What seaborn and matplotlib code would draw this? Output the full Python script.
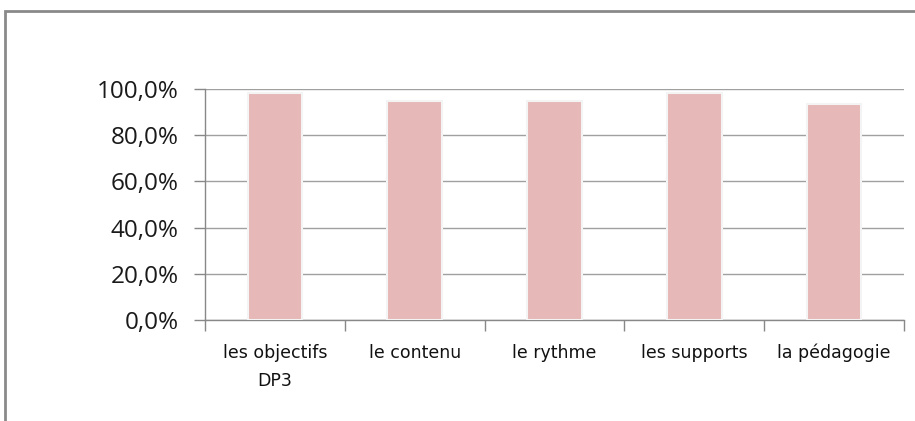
import numpy as np
import pandas as pd
import matplotlib
matplotlib.use('Agg')
import matplotlib.pyplot as plt
import seaborn as sns
from matplotlib.patches import Rectangle
from matplotlib.ticker import FixedLocator, FuncFormatter

# Data
categories = ['les objectifs\nDP3', 'le contenu', 'le rythme', 'les supports', 'la pédagogie']
values = [0.983, 0.950, 0.950, 0.983, 0.933]
yticks = [0.0, 0.2, 0.4, 0.6, 0.8, 1.0]

df = pd.DataFrame({'critere': categories, 'taux': values})

sns.set_style('white')
plt.rcParams['font.family'] = ['Open Sans', 'DejaVu Sans']

fig = plt.figure(figsize=(9.15, 4.21), dpi=100)
ax = fig.add_axes([205 / 915, 1 - 320 / 421, 699 / 915, 231 / 421])

sns.barplot(data=df, x='critere', y='taux', color='#e6b8b7', width=0.39,
            edgecolor='#f4f4f4', linewidth=1.5, saturation=1, ax=ax, zorder=3)

ax.set_xlim(-0.5, len(categories) - 0.5)
ax.set_ylim(0, 1)
ax.set_xlabel('')
ax.set_ylabel('')

# Y axis: percentages with comma decimal
ax.set_yticks(yticks)
ax.yaxis.set_major_formatter(FuncFormatter(lambda v, p: f'{v * 100:.1f}%'.replace('.', ',')))
ax.tick_params(axis='y', length=8, width=1, color='#888888', labelsize=17.5,
               labelcolor='#1a1a1a', pad=11, left=True)
ax.grid(axis='y', color='#a0a0a0', linewidth=1, zorder=0)

# X axis: labels in centre, ticks at boundaries
ax.tick_params(axis='x', which='major', length=0, pad=17, labelsize=12.5)
ax.xaxis.set_minor_locator(FixedLocator(np.arange(-0.5, len(categories), 1.0)))
ax.tick_params(axis='x', which='minor', length=8, width=1, color='#888888', bottom=True)
for lbl in ax.get_xticklabels():
    lbl.set_family(['Liberation Sans Narrow', 'DejaVu Sans'])
    lbl.set_color('#111111')
    lbl.set_linespacing(1.75)

for side in ['top', 'right']:
    ax.spines[side].set_visible(False)
for side in ['left', 'bottom']:
    ax.spines[side].set_color('#888888')
    ax.spines[side].set_linewidth(1)

# Outer chart frame
fig.patches.append(Rectangle((5 / 915, -0.1), 1.0, (421 - 11) / 421 + 0.1,
                             transform=fig.transFigure, fill=False,
                             edgecolor='#8a8a8a', linewidth=2))

fig.savefig('out.png', dpi=100)
